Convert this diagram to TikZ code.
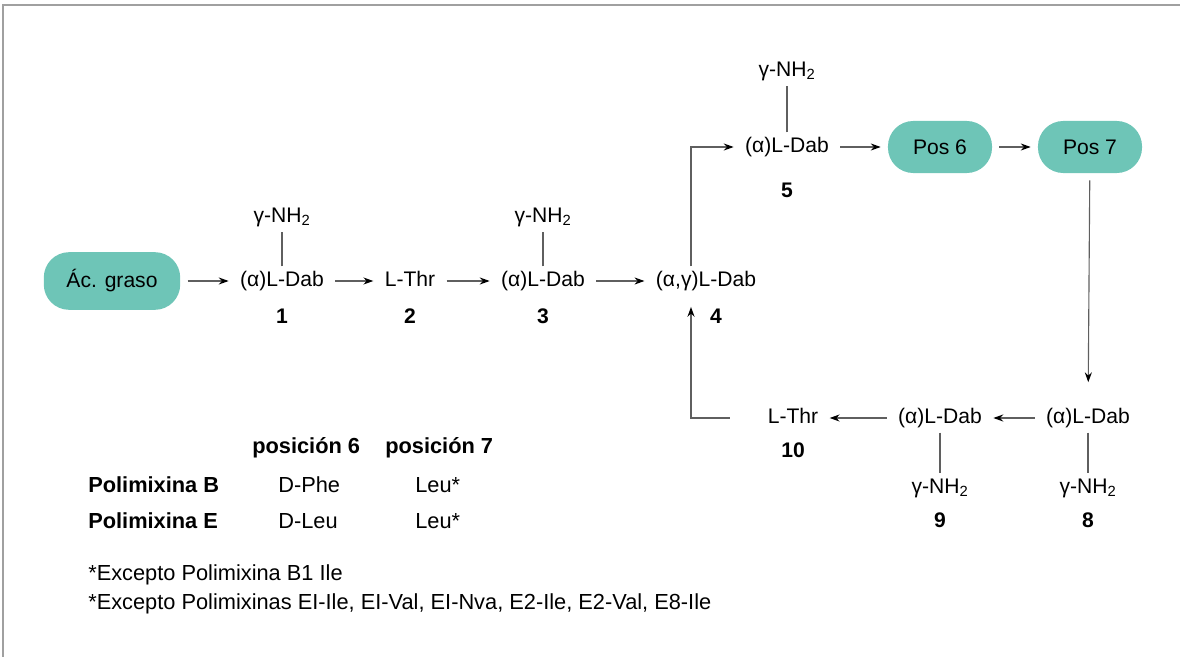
\documentclass[tikz,border=0pt]{standalone}
\usepackage{fontspec}
\setmainfont{Liberation Sans}
\usepackage{tikz}
\usetikzlibrary{shapes, arrows.meta}
\definecolor{mint}{RGB}{110, 197, 183}
\definecolor{wire}{RGB}{95, 95, 95}
\definecolor{frame}{RGB}{160, 160, 160}
\newcommand*{\resfont}{\fontsize{15}{18}\selectfont}
\newcommand*{\legfont}{\fontsize{15.5}{18}\selectfont}
\newcommand*{\gnh}{γ-NH\textsubscript{2}}

\begin{document}
\begin{tikzpicture}[
   x=0.025cm, y=-0.025cm,
   pill/.style={rectangle, rounded corners=18pt, fill=mint, text=black,
                inner sep=2pt, font=\resfont},
   res/.style={inner sep=3pt, text height=11pt, text depth=3.5pt, font=\resfont},
   num/.style={inner sep=3pt, font=\resfont\bfseries},
   flow/.style={-{Stealth[length=7pt, width=5pt, color=black]}, color=wire, line width=0.8,
                shorten <=5pt, shorten >=5pt},
   stem/.style={color=wire, line width=0.8},
   leg/.style={anchor=west, inner sep=0pt, font=\legfont}
  ]

  \useasboundingbox (0, 0) rectangle (1180, 657);
  \draw[frame, line width=1.4] (3, 657) -- (3, 5) -- (1180, 5);

  % chain, upper row
  \node (acid) at (112, 281) [pill, minimum width=97pt, minimum height=41pt] {Ác. graso};
  \node (r1) at (282, 281) [res] {(α)L-Dab};
  \node (r2) at (410, 281) [res] {L-Thr};
  \node (r3) at (543, 281) [res] {(α)L-Dab};
  \node (r4) at (706, 281) [res] {(α,γ)L-Dab};
  \node (r5) at (787, 147) [res] {(α)L-Dab};
  \node (p6) at (940, 147) [pill, minimum width=74pt, minimum height=37pt] {Pos 6};
  \node (p7) at (1090, 147) [pill, minimum width=74pt, minimum height=37pt] {Pos 7};

  % chain, lower row
  \node (r8) at (1088, 418) [res] {(α)L-Dab};
  \node (r9) at (940, 418) [res] {(α)L-Dab};
  \node (r10) at (793, 418) [res] {L-Thr};

  % side groups
  \node (g1) at (282, 217) [res] {\gnh};
  \node (g3) at (543, 217) [res] {\gnh};
  \node (g5) at (787, 71) [res] {\gnh};
  \node (g8) at (1088, 488) [res] {\gnh};
  \node (g9) at (940, 488) [res] {\gnh};

  \node (n1) at (282, 316) [num] {1};
  \node (n2) at (410, 316) [num] {2};
  \node (n3) at (543, 316) [num] {3};
  \node (n4) at (716, 316) [num] {4};
  \node (n5) at (787, 190) [num] {5};
  \node (n8) at (1088, 520) [num] {8};
  \node (n9) at (940, 520) [num] {9};
  \node (n10) at (793, 450) [num] {10};

  \foreach \B/\E in {r1/g1, r3/g3, r5/g5, r8/g8, r9/g9} {
    \draw[stem] (\B) -- (\E);
  }

  \foreach \B/\E in {acid/r1, r1/r2, r2/r3, r3/r4, r5/p6, p6/p7, r8/r9, r9/r10} {
    \draw[flow] (\B) -- (\E);
  }

  \coordinate (riser) at (691, 0);
  \draw[flow, shorten <=0pt] (riser |- r4.north) |- (r5.west);
  \draw[flow, shorten <=24pt, shorten >=8pt] (r10.west) -| (riser |- r4.south);
  \draw[flow, shorten >=15pt] (p7) -- (r8);

  % legend
  \node (h6) at (252, 448) [leg, font=\legfont\bfseries] {posición 6};
  \node (h7) at (385, 448) [leg, font=\legfont\bfseries] {posición 7};
  \node (pb) at (88, 485) [leg, font=\legfont\bfseries] {Polimixina B};
  \node (pe) at (88, 521) [leg, font=\legfont\bfseries] {Polimixina E};
  \node (b6) at (278, 485) [leg] {D-Phe};
  \node (b7) at (415, 485) [leg] {Leu*};
  \node (e6) at (278, 521) [leg] {D-Leu};
  \node (e7) at (415, 521) [leg] {Leu*};
  \node (f1) at (88, 575) [leg] {*Excepto Polimixina B1 Ile};
  \node (f2) at (88, 604) [leg] {*Excepto Polimixinas EI-Ile, EI-Val, EI-Nva, E2-Ile, E2-Val, E8-Ile};

\end{tikzpicture}
\end{document}
